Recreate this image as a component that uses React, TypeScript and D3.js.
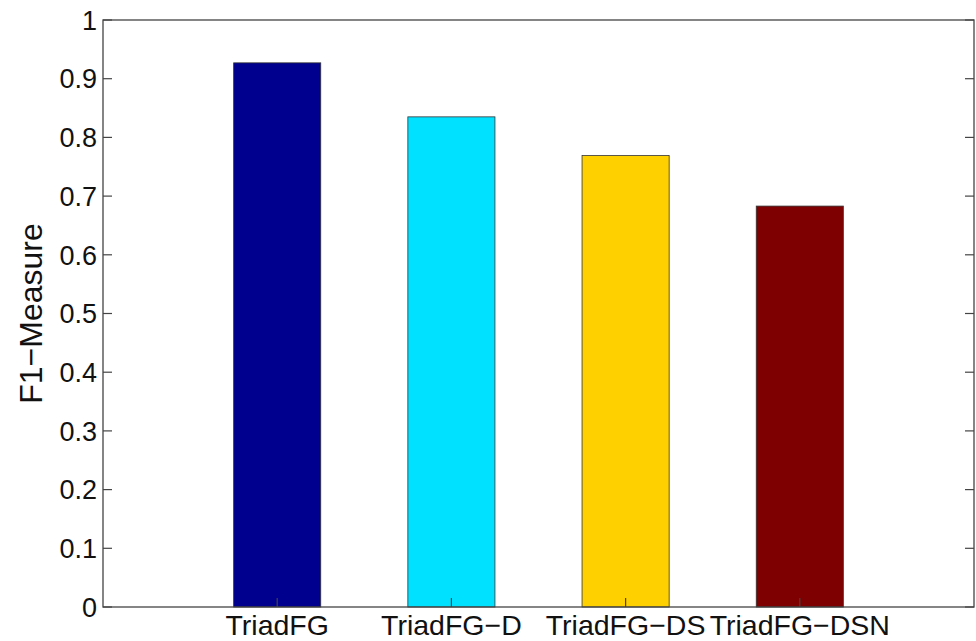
import React from "react";
import * as d3 from "d3";

const categories = ["TriadFG", "TriadFG\u2212D", "TriadFG\u2212DS", "TriadFG\u2212DSN"];
const values = [0.927, 0.835, 0.769, 0.683];
const colors = ["#00008F", "#00E1FF", "#FFD000", "#7F0000"];
const yTicks = [0, 0.1, 0.2, 0.3, 0.4, 0.5, 0.6, 0.7, 0.8, 0.9, 1];
const yLabel = "F1\u2212Measure";

export default function App() {
  const W = 976, H = 641;
  const left = 103, right = 974, top = 20, bottom = 607;
  const x = d3.scaleLinear().domain([0, 5]).range([left, right]);
  const y = d3.scaleLinear().domain([0, 1]).range([bottom, top]);
  const barW = x(0.5) - x(0);
  const font = "Liberation Sans, Arial, Helvetica, sans-serif";
  return (
    <svg width={W} height={H} style={{ position: "absolute", left: 0, top: 0, background: "#fff" }} fontFamily={font}>
      {values.map((v, i) => (
        <rect key={i} x={x(i + 1) - barW / 2} y={y(v)} width={barW} height={y(0) - y(v)}
          fill={colors[i]} stroke="#333" strokeWidth={0.8} />
      ))}
      <rect x={left} y={top} width={right - left} height={bottom - top} fill="none" stroke="#444" strokeWidth={1.3} />
      {yTicks.map((t) => (
        <g key={t}>
          <line x1={left} x2={left + 9} y1={y(t)} y2={y(t)} stroke="#444" strokeWidth={1.2} />
          <line x1={right} x2={right - 9} y1={y(t)} y2={y(t)} stroke="#444" strokeWidth={1.2} />
          <text x={left - 6} y={y(t)} dy="0.36em" textAnchor="end" fontSize={27} fill="#111">{d3.format("")(t)}</text>
        </g>
      ))}
      {categories.map((c, i) => (
        <g key={c}>
          <line x1={x(i + 1)} x2={x(i + 1)} y1={bottom} y2={bottom - 9} stroke="#444" strokeWidth={1.2} />
          <text x={x(i + 1)} y={635} textAnchor="middle" fontSize={28.5} fill="#111">{c}</text>
        </g>
      ))}
      <text transform={`translate(42,${(top + bottom) / 2}) rotate(-90)`} textAnchor="middle" fontSize={32} fill="#111">{yLabel}</text>
    </svg>
  );
}
